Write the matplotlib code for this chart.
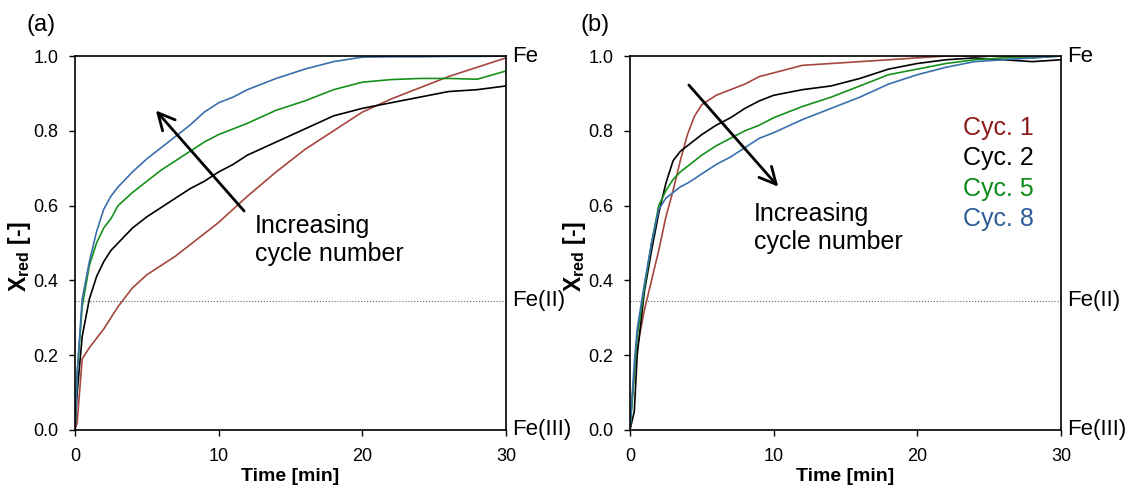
import matplotlib
matplotlib.use("Agg")
import matplotlib.pyplot as plt

plt.rcParams['font.family'] = ['Liberation Sans', 'DejaVu Sans']
plt.rcParams['mathtext.fontset'] = 'custom'
plt.rcParams['mathtext.rm'] = 'Liberation Sans'
plt.rcParams['mathtext.bf'] = 'Liberation Sans:bold'

#----------------------------------------------------------------
# data: time [min] and X_red [-]

# panel (a)
t_a = [0, 0.15, 0.5, 1, 1.5, 2, 2.5, 3, 4, 5, 6, 7, 8, 9, 10, 11, 12, 14, 16, 18, 20, 22, 24, 26, 28, 30]
cyc1_a = [0, 0.02, 0.19, 0.22, 0.245, 0.27, 0.30, 0.33, 0.38, 0.415, 0.44, 0.465, 0.495, 0.525,
          0.555, 0.59, 0.625, 0.69, 0.75, 0.80, 0.85, 0.885, 0.915, 0.945, 0.97, 0.995]
cyc2_a = [0, 0.10, 0.25, 0.35, 0.41, 0.45, 0.48, 0.50, 0.54, 0.57, 0.595, 0.62, 0.645, 0.665,
          0.69, 0.71, 0.735, 0.77, 0.805, 0.84, 0.86, 0.875, 0.89, 0.905, 0.91, 0.92]
cyc5_a = [0, 0.15, 0.33, 0.44, 0.50, 0.54, 0.565, 0.60, 0.635, 0.665, 0.695, 0.72, 0.745, 0.77,
          0.79, 0.805, 0.82, 0.855, 0.88, 0.91, 0.93, 0.937, 0.94, 0.94, 0.938, 0.96]
cyc8_a = [0, 0.15, 0.35, 0.45, 0.53, 0.59, 0.625, 0.65, 0.69, 0.725, 0.755, 0.785, 0.815, 0.85,
          0.875, 0.89, 0.91, 0.94, 0.965, 0.985, 0.997, 0.998, 0.998, 0.999, 0.999, 1.0]

# panel (b)
t_b = [0, 0.3, 0.5, 1, 1.5, 2, 2.5, 3, 3.5, 4, 4.5, 5, 6, 7, 8, 9, 10, 12, 14, 16, 18, 20, 22, 24, 26, 28, 30]
cyc1_b = [0.02, 0.15, 0.22, 0.32, 0.40, 0.48, 0.57, 0.64, 0.72, 0.79, 0.84, 0.87, 0.895, 0.91, 0.925,
          0.945, 0.955, 0.975, 0.98, 0.985, 0.99, 0.995, 1.0, 1.0, 1.0, 1.0, 1.0]
cyc2_b = [0, 0.05, 0.20, 0.37, 0.48, 0.58, 0.66, 0.72, 0.745, 0.76, 0.775, 0.79, 0.815, 0.835, 0.86,
          0.88, 0.895, 0.91, 0.92, 0.94, 0.965, 0.98, 0.99, 0.995, 0.99, 0.985, 0.99]
cyc5_b = [0, 0.15, 0.25, 0.38, 0.50, 0.60, 0.64, 0.67, 0.69, 0.705, 0.72, 0.735, 0.76, 0.78, 0.80,
          0.815, 0.835, 0.865, 0.89, 0.92, 0.95, 0.965, 0.98, 0.99, 0.995, 0.995, 1.0]
cyc8_b = [0, 0.18, 0.27, 0.39, 0.50, 0.59, 0.62, 0.635, 0.65, 0.66, 0.672, 0.685, 0.71, 0.73, 0.755,
          0.78, 0.795, 0.83, 0.86, 0.89, 0.925, 0.95, 0.97, 0.985, 0.99, 0.995, 1.0]

cycles = ["Cyc. 1", "Cyc. 2", "Cyc. 5", "Cyc. 8"]
line_colors = ["#a5463f", "#000000", "#16911a", "#3a6fae"]
text_colors = ["#8e1b1b", "#000000", "#0c8a18", "#2f5d98"]

fe_levels = [1.0, 0.345, 0.0]
fe_names = ["Fe", "Fe(II)", "Fe(III)"]

#----------------------------------------------------------------
# figure

fig = plt.figure(figsize=(11.38, 4.94), dpi=100)
ax_a = fig.add_axes([0.0659, 0.1296, 0.3787, 0.757])
ax_b = fig.add_axes([0.5536, 0.1296, 0.3787, 0.757])

def style_axis(ax):
    ax.set_xlim(0, 30)
    ax.set_ylim(0, 1)
    ax.set_xticks([0, 10, 20, 30])
    ax.set_yticks([0, 0.2, 0.4, 0.6, 0.8, 1.0])
    ax.set_yticklabels([f"{v:.1f}" for v in ax.get_yticks()])
    ax.tick_params(direction='out', length=4, width=1, labelsize=13, pad=8)
    ax.tick_params(axis='x', pad=9)
    for s in ax.spines.values():
        s.set_linewidth(1.2)
    ax.set_xlabel("Time [min]", fontsize=14, fontweight='bold', labelpad=2)
    ax.set_ylabel(r"$\mathbf{X}_{\mathbf{red}}$ [-]", fontsize=16.5, fontweight='bold')
    ax.yaxis.set_label_coords(-0.098, 0.465)
    ax.axhline(fe_levels[1], color='#666666', lw=0.8, ls=':')
    for lvl, name in zip(fe_levels, fe_names):
        ax.text(30.4, lvl, name, fontsize=16, va='center', ha='left', clip_on=False)

series_a = [cyc1_a, cyc2_a, cyc5_a, cyc8_a]
series_b = [cyc1_b, cyc2_b, cyc5_b, cyc8_b]

for ys, c in zip(series_a, line_colors):
    ax_a.plot(t_a, ys, color=c, lw=1.2)
for ys, c in zip(series_b, line_colors):
    ax_b.plot(t_b, ys, color=c, lw=1.2)

style_axis(ax_a)
style_axis(ax_b)

# arrows and notes
arrow = dict(arrowstyle='->', lw=2.0, color='black', mutation_scale=30)
ax_a.annotate("", xy=(5.5, 0.86), xytext=(11.9, 0.58), arrowprops=arrow)
ax_a.text(12.5, 0.578, "Increasing\ncycle number", fontsize=18, va='top', ha='left')

ax_b.annotate("", xy=(10.45, 0.645), xytext=(3.97, 0.928), arrowprops=arrow)
ax_b.text(8.6, 0.61, "Increasing\ncycle number", fontsize=18, va='top', ha='left')

for i, (name, c) in enumerate(zip(cycles, text_colors)):
    ax_b.text(23.2, 0.807 - i * 0.081, name, color=c, fontsize=18, va='center', ha='left')

fig.text(26 / 1138, 1 - 25 / 494, "(a)", fontsize=17, va='center', ha='left')
fig.text(581 / 1138, 1 - 25 / 494, "(b)", fontsize=17, va='center', ha='left')

fig.savefig("out.png", dpi=100)
